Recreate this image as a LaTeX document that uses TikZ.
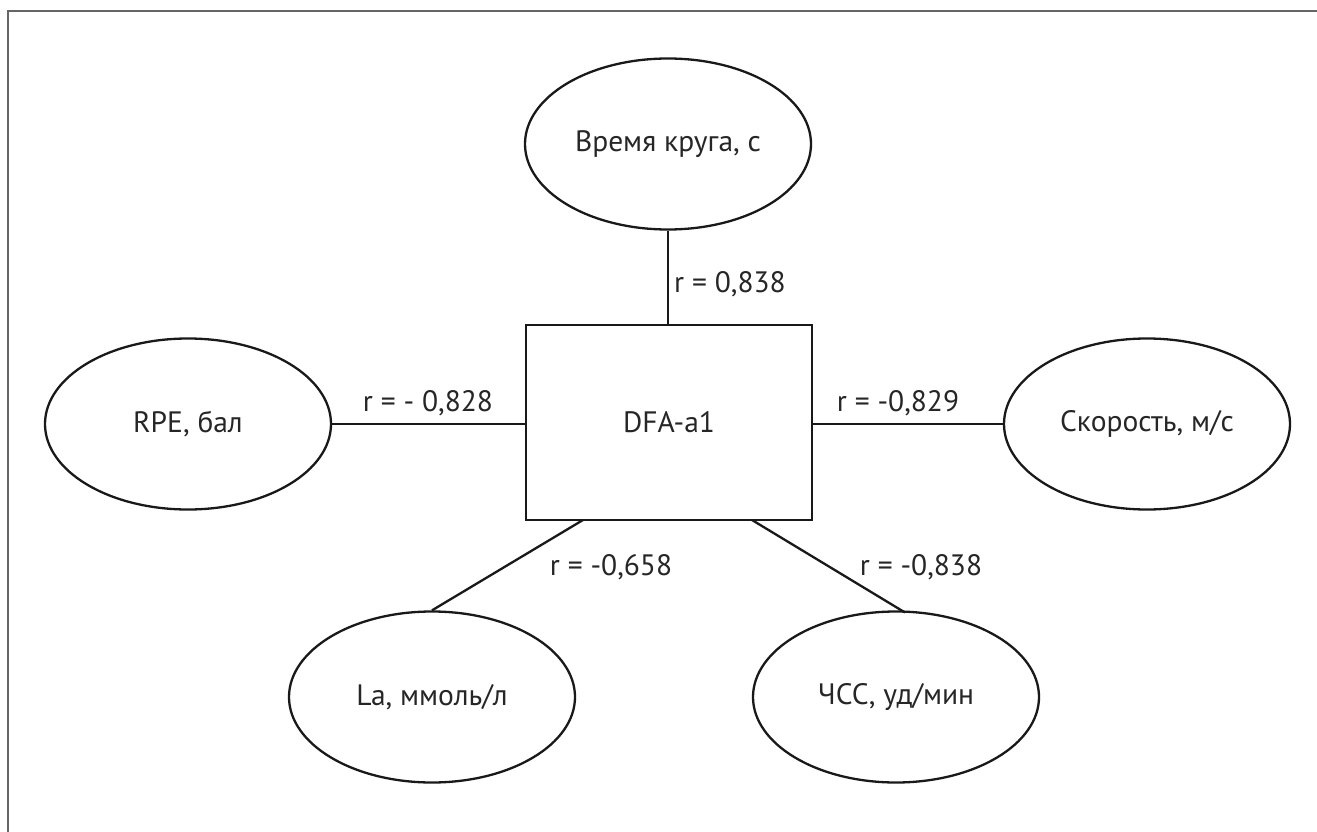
\documentclass[tikz,border=0pt]{standalone}
\usepackage{fontspec}
\setmainfont{PT Sans}
\usetikzlibrary{shapes.geometric}
\begin{document}
\begin{tikzpicture}[x=1pt,y=-1pt,
  every node/.style={font=\fontsize{29.5}{35}\selectfont, text=black!85},
  oval/.style={draw=black!90, line width=2.3pt, ellipse, minimum width=286pt, minimum height=171pt, inner sep=0pt},
  box/.style={draw=black!90, line width=2.3pt, rectangle, minimum width=286pt, minimum height=195pt, inner sep=0pt},
  link/.style={draw=black!90, line width=2.3pt},
  lbl/.style={anchor=center}]
\useasboundingbox (0,0) rectangle (1317,832);
\draw[black!60, line width=2pt] (7.5,832) -- (7.5,11) -- (1317,11);
\node[box] (dfa) at (669,422.5) {DFA-a1};
\node[oval] (time) at (668,144) {Время круга, с};
\node[oval] (rpe) at (188,424) {RPE, бал};
\node[oval] (speed) at (1147,424) {Скорость, м/с};
\node[oval] (la) at (432,697) {La, ммоль/л};
\node[oval] (hr) at (896,697) {ЧСС, уд/мин};
\coordinate (bl) at (583,520);
\coordinate (br) at (752,520);
\draw[link] (time.south) -- (time.south |- dfa.north);
\draw[link] (rpe.east) -- (rpe.east -| dfa.west);
\draw[link] (speed.west) -- (speed.west -| dfa.east);
\draw[link] (bl) -- (la.north);
\draw[link] (br) -- (905,612.5) coordinate (hrtop);
\node[lbl] (l1) at (730,284) {r = 0,838};
\node[lbl] (l2) at (428,403) {r = - 0,828};
\node[lbl] (l3) at (898,403) {r = -0,829};
\node[lbl] (l4) at (611,567) {r = -0,658};
\node[lbl] (l5) at (921,567) {r = -0,838};
\end{tikzpicture}
\end{document}
